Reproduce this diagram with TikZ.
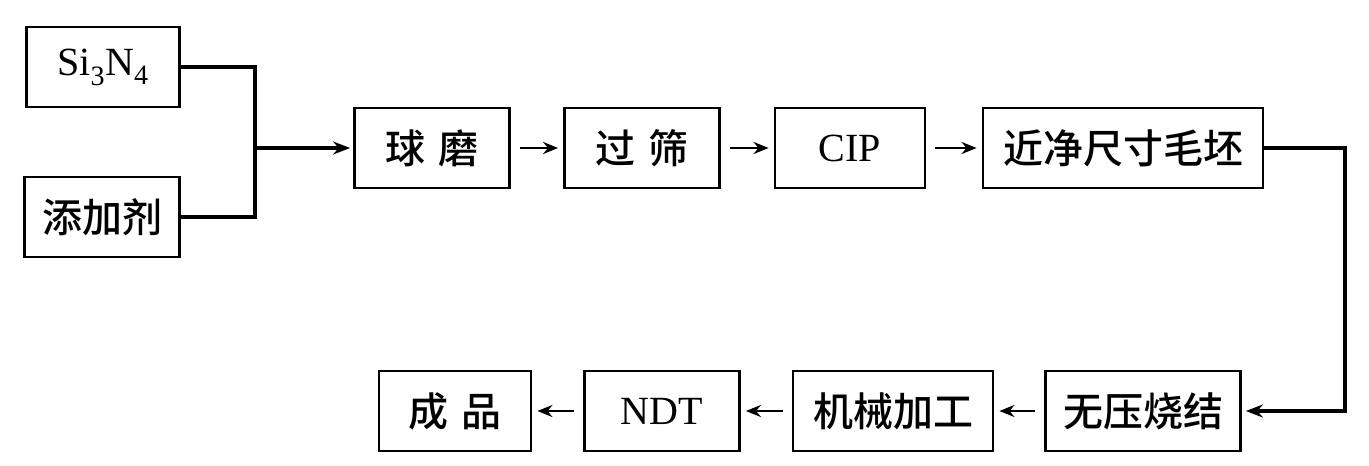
\documentclass[tikz,border=0pt]{standalone}
\usepackage{fontspec}
\setmainfont{Liberation Serif}
\newfontfamily\cjk{Noto Sans CJK SC}[BoldFont={Noto Sans CJK SC Medium}]
\usepackage{tikz}
\usetikzlibrary{arrows.meta}

\begin{document}
\begin{tikzpicture}[x=1pt,y=-1pt,
  stepbox/.style={draw,line width=2.8pt,inner sep=0pt,minimum height=80pt,font=\fontsize{40}{44}\selectfont},
  flow/.style={-{Stealth[length=15pt,width=12pt]},line width=2.6pt,shorten <=9pt,shorten >=5pt},
  feed/.style={line width=3.6pt}]
\useasboundingbox (0,0) rectangle (1369,466);
  \draw (103,67) node[stepbox,minimum width=153pt] (si) {Si\textsubscript{3}N\textsubscript{4}};
  \draw (102,217) node[stepbox,minimum width=155pt] (add) {\cjk\bfseries 添加剂};
  \draw (432,148) node[stepbox,minimum width=155pt] (qiumo) {\cjk\bfseries 球\,\,磨};
  \draw (642,148) node[stepbox,minimum width=155pt] (guoshai) {\cjk\bfseries 过\,\,筛};
  \draw (850,148) node[stepbox,minimum width=150pt] (cip) {CIP};
  \draw (1123,148) node[stepbox,minimum width=280pt] (jinjing) {\cjk\bfseries 近净尺寸毛坯};
    \draw (1143,411) node[stepbox,minimum width=195pt] (wuya) {\cjk\bfseries 无压烧结};
    \draw (893,411) node[stepbox,minimum width=200pt] (jixie) {\cjk\bfseries 机械加工};
    \draw (662,411) node[stepbox,minimum width=155pt] (ndt) {NDT};
    \draw (455,411) node[stepbox,minimum width=152pt] (chengpin) {\cjk\bfseries 成\,\,品};

  \coordinate (join) at (255,148);
  \coordinate (turn) at (1345,148);

     \draw[feed] (si.east) -| (join);
     \draw[feed] (add.east) -| (join);
     \draw[feed,-{Stealth[length=17pt,width=13pt]},shorten >=3pt] (join) -- (qiumo);
     \path[flow] (qiumo) edge (guoshai);
     \path[flow] (guoshai) edge (cip);
     \path[flow] (cip) edge (jinjing);
     \draw[feed,-{Stealth[length=17pt,width=13pt]},shorten >=4pt] (jinjing) -- (turn) |- (wuya);
       \path[flow] (wuya) edge (jixie);
       \path[flow] (jixie) edge (ndt);
       \path[flow] (ndt) edge (chengpin);

\end{tikzpicture}
\end{document}
